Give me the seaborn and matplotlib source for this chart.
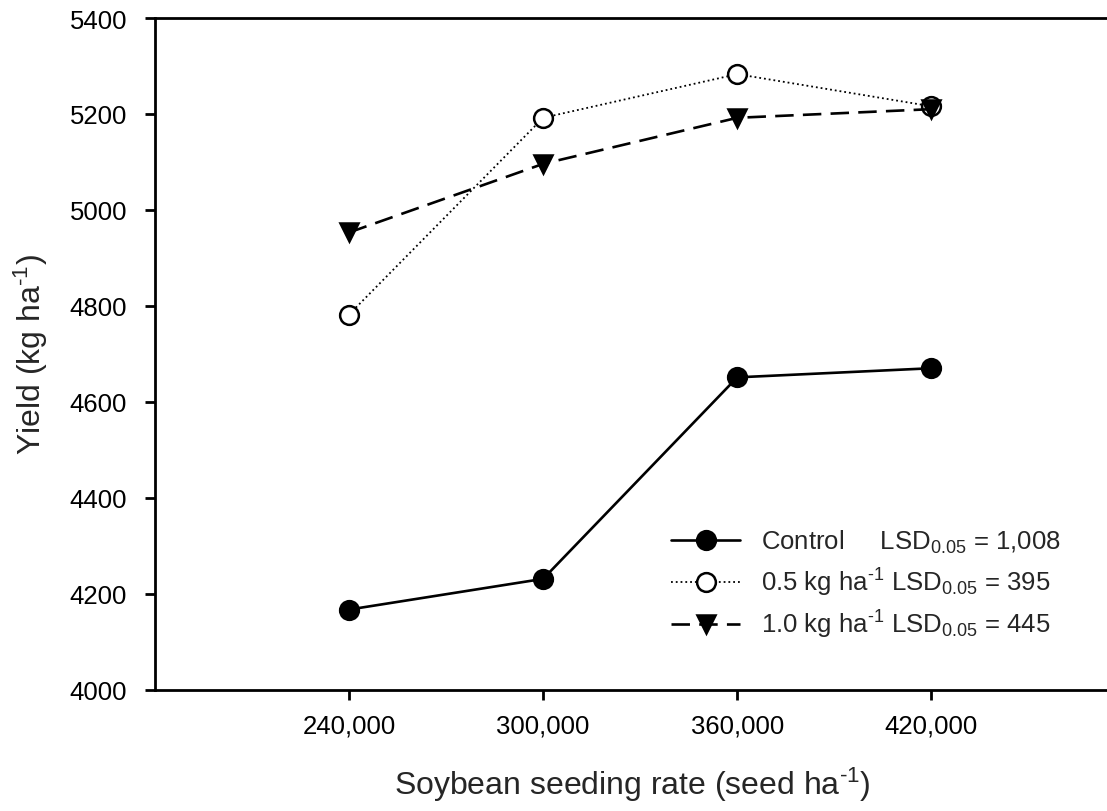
import matplotlib
matplotlib.use("Agg")
import matplotlib.pyplot as plt
import pandas as pd
import seaborn as sns

# data
seeding_rate = [240000, 300000, 360000, 420000]
control = [4167, 4231, 4651, 4670]
half_kg = [4782, 5192, 5283, 5216]
one_kg = [4953, 5096, 5192, 5210]

labels = ["Control     LSD$_{0.05}$ = 1,008",
          "0.5 kg ha$^{\u20101}$ LSD$_{0.05}$ = 395",
          "1.0 kg ha$^{\u20101}$ LSD$_{0.05}$ = 445"]

sns.set_style("ticks")
plt.rcParams["font.family"] = ["Liberation Sans", "DejaVu Sans"]
plt.rcParams["mathtext.fontset"] = "custom"
plt.rcParams["mathtext.rm"] = "Liberation Sans"
plt.rcParams["mathtext.it"] = "Liberation Sans"
plt.rcParams["mathtext.default"] = "regular"

fig = plt.figure(figsize=(11.07, 8.12), dpi=100)
ax = fig.add_axes([0.140, 0.1494, 0.862, 0.8272])

styles = [
    (control, "-", "o", "black", 1.9),
    (half_kg, ":", "o", "white", 1.3),
    (one_kg, (0, (7, 3.5)), "v", "black", 1.9),
]
for (vals, ls, mk, fc, lw), lab in zip(styles, labels):
    df = pd.DataFrame({"rate": seeding_rate, "yield": vals})
    sns.lineplot(data=df, x="rate", y="yield", ax=ax, color="black",
                 linestyle=ls, linewidth=lw, marker=mk, markersize=13.5,
                 markerfacecolor=fc, markeredgecolor="black",
                 markeredgewidth=1.8, label=lab)

ax.set_xlim(180000, 475000)
ax.set_ylim(4000, 5400)
ax.set_xticks(seeding_rate)
ax.set_xticklabels([f"{v:,}" for v in seeding_rate])
ax.set_yticks(range(4000, 5401, 200))

for s in ["left", "bottom", "top"]:
    ax.spines[s].set_linewidth(2.0)
    ax.spines[s].set_color("black")
ax.spines["right"].set_visible(False)
ax.tick_params(direction="out", length=7, width=2.0, labelsize=18.5, colors="black")
ax.tick_params(axis="x", pad=10)
ax.tick_params(axis="y", pad=13)

ax.set_xlabel("Soybean seeding rate (seed ha$^{\u20101}$)", fontsize=23, labelpad=20)
ax.set_ylabel("Yield (kg ha$^{\u20101}$)", fontsize=23, labelpad=14)

ax.legend(loc="lower left", bbox_to_anchor=(0.53, 0.058), frameon=False,
          fontsize=18.5, handlelength=2.7, handletextpad=0.8, labelspacing=0.4,
          borderaxespad=0)

fig.savefig("out.png", dpi=100)
